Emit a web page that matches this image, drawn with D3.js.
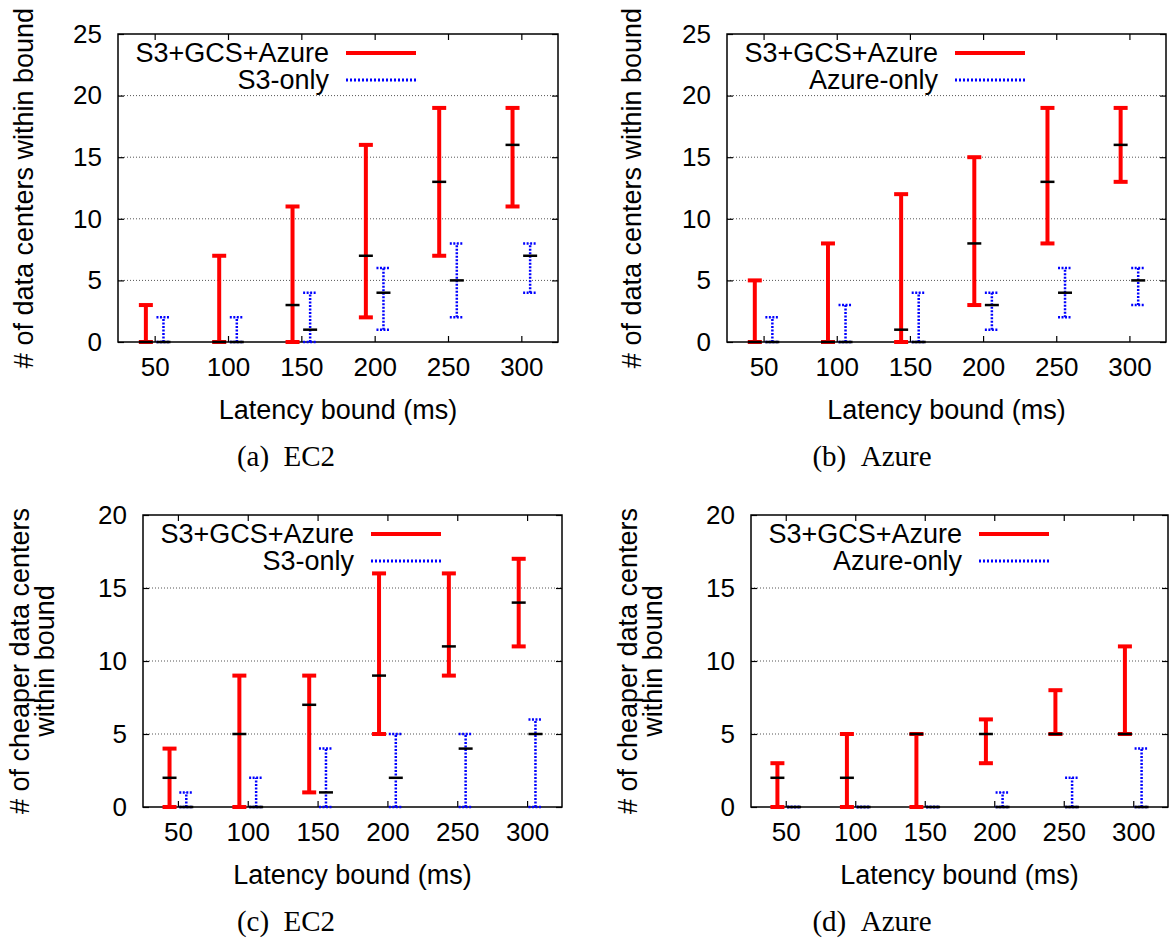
<!DOCTYPE html>
<html>
<head>
<meta charset="utf-8">
<script src="https://cdn.jsdelivr.net/npm/d3@7"></script>
<style>
  body { margin: 0; background: #fff; }
  svg { display: block; }
  text { font-family: "Liberation Sans", Arial, sans-serif; fill: #000; }
  .caption { font-family: "Liberation Serif", "Times New Roman", serif; }
</style>
</head>
<body>
<svg width="1172" height="949"></svg>
<script>
// latency bounds (ms)
var latency = [50, 100, 150, 200, 250, 300];

// (a) EC2 - number of data centers within bound
var aMultiMin = [0, 0, 0, 2, 7, 11];
var aMultiMed = [0, 0, 3, 7, 13, 16];
var aMultiMax = [3, 7, 11, 16, 19, 19];
var aSingleMin = [0, 0, 0, 1, 2, 4];
var aSingleMed = [0, 0, 1, 4, 5, 7];
var aSingleMax = [2, 2, 4, 6, 8, 8];

// (b) Azure
var bMultiMin = [0, 0, 0, 3, 8, 13];
var bMultiMed = [0, 0, 1, 8, 13, 16];
var bMultiMax = [5, 8, 12, 15, 19, 19];
var bSingleMin = [0, 0, 0, 1, 2, 3];
var bSingleMed = [0, 0, 0, 3, 4, 5];
var bSingleMax = [2, 3, 4, 4, 6, 6];

// (c) EC2 - cheaper data centers within bound
var cMultiMin = [0, 0, 1, 5, 9, 11];
var cMultiMed = [2, 5, 7, 9, 11, 14];
var cMultiMax = [4, 9, 9, 16, 16, 17];
var cSingleMin = [0, 0, 0, 0, 0, 0];
var cSingleMed = [0, 0, 1, 2, 4, 5];
var cSingleMax = [1, 2, 4, 5, 5, 6];

// (d) Azure
var dMultiMin = [0, 0, 0, 3, 5, 5];
var dMultiMed = [2, 2, 5, 5, 5, 5];
var dMultiMax = [3, 5, 5, 6, 8, 11];
var dSingleMin = [0, 0, 0, 0, 0, 0];
var dSingleMed = [0, 0, 0, 0, 0, 0];
var dSingleMax = [0, 0, 0, 1, 2, 4];

var multiLabel = "S3+GCS+Azure";

function rows(mn, md, mx) {
  return latency.map(function(l, i) { return { x: l, lo: mn[i], med: md[i], hi: mx[i] }; });
}

var panels = [
  { left: 118, right: 558, top: 34, bottom: 342, ymax: 25, ylabel: ["# of data centers within bound"], single: "S3-only", caption: "(a)\u2002EC2",
    multi: rows(aMultiMin, aMultiMed, aMultiMax), one: rows(aSingleMin, aSingleMed, aSingleMax) },
  { left: 727, right: 1166, top: 34, bottom: 342, ymax: 25, ylabel: ["# of data centers within bound"], single: "Azure-only", caption: "(b)\u2002Azure",
    multi: rows(bMultiMin, bMultiMed, bMultiMax), one: rows(bSingleMin, bSingleMed, bSingleMax) },
  { left: 143, right: 562, top: 515, bottom: 807, ymax: 20, ylabel: ["# of cheaper data centers", "within bound"], single: "S3-only", caption: "(c)\u2002EC2",
    multi: rows(cMultiMin, cMultiMed, cMultiMax), one: rows(cSingleMin, cSingleMed, cSingleMax) },
  { left: 751, right: 1168, top: 515, bottom: 807, ymax: 20, ylabel: ["# of cheaper data centers", "within bound"], single: "Azure-only", caption: "(d)\u2002Azure",
    multi: rows(dMultiMin, dMultiMed, dMultiMax), one: rows(dSingleMin, dSingleMed, dSingleMax) }
];

var svg = d3.select("svg");
var capW = 7;     // half width of error bar caps
var shift = 6;    // x offset of each series in data units
var blueDash = "2,1.5";

panels.forEach(function(p, pi) {
  var x = d3.scaleLinear().domain([25, 325]).range([p.left, p.right]);
  var y = d3.scaleLinear().domain([0, p.ymax]).range([p.bottom, p.top]);
  var g = svg.append("g");
  var yTicks = d3.range(0, p.ymax + 1, 5);
  var colX = (pi % 2) * 608;   // left edge of this sub-figure

  // grid
  g.append("g").selectAll("line")
    .data(yTicks.filter(function(t) { return t > 0 && t < p.ymax; }))
    .enter().append("line")
    .attr("x1", p.left).attr("x2", p.right)
    .attr("y1", function(d) { return y(d); }).attr("y2", function(d) { return y(d); })
    .attr("stroke", "#555").attr("stroke-width", 1).attr("stroke-dasharray", "1,2");

  // axes with inward ticks
  var ax = g.append("g").attr("transform", "translate(" + p.left + ",0)")
    .call(d3.axisLeft(y).tickValues(yTicks).tickSize(-6).tickPadding(16));
  var axR = g.append("g").attr("transform", "translate(" + p.right + ",0)")
    .call(d3.axisRight(y).tickValues(yTicks).tickSize(-6).tickFormat(""));
  var axB = g.append("g").attr("transform", "translate(0," + p.bottom + ")")
    .call(d3.axisBottom(x).tickValues(latency).tickSize(-6).tickPadding(16));
  var axT = g.append("g").attr("transform", "translate(0," + p.top + ")")
    .call(d3.axisTop(x).tickValues(latency).tickSize(-6).tickFormat(""));
  [ax, axR, axB, axT].forEach(function(a) {
    a.select(".domain").remove();
    a.selectAll("line").attr("stroke", "#000").attr("stroke-width", 1.2);
    a.selectAll("text").style("font-size", "26px").attr("font-family", null);
  });

  // frame
  g.append("rect")
    .attr("x", p.left).attr("y", p.top)
    .attr("width", p.right - p.left).attr("height", p.bottom - p.top)
    .attr("fill", "none").attr("stroke", "#000").attr("stroke-width", 1.5);

  // error bars
  function bars(data, dx, color, width, dash) {
    var b = g.append("g").selectAll("g").data(data).enter().append("g");
    b.append("line")
      .attr("x1", function(d) { return x(d.x + dx); }).attr("x2", function(d) { return x(d.x + dx); })
      .attr("y1", function(d) { return y(d.lo); }).attr("y2", function(d) { return y(d.hi); });
    b.append("line")
      .attr("x1", function(d) { return x(d.x + dx) - capW; }).attr("x2", function(d) { return x(d.x + dx) + capW; })
      .attr("y1", function(d) { return y(d.lo); }).attr("y2", function(d) { return y(d.lo); });
    b.append("line")
      .attr("x1", function(d) { return x(d.x + dx) - capW; }).attr("x2", function(d) { return x(d.x + dx) + capW; })
      .attr("y1", function(d) { return y(d.hi); }).attr("y2", function(d) { return y(d.hi); });
    b.selectAll("line").attr("stroke", color).attr("stroke-width", width)
      .attr("stroke-dasharray", dash || null);
    // median
    g.append("g").selectAll("line").data(data).enter().append("line")
      .attr("x1", function(d) { return x(d.x + dx) - capW; }).attr("x2", function(d) { return x(d.x + dx) + capW; })
      .attr("y1", function(d) { return y(d.med); }).attr("y2", function(d) { return y(d.med); })
      .attr("stroke", "#000").attr("stroke-width", 2.5);
  }
  bars(p.multi, -shift, "#ff0000", 4);
  bars(p.one, shift, "#0000ff", 2.5, blueDash);

  // legend
  var lg = g.append("g");
  [[multiLabel, "#ff0000", 4, null], [p.single, "#0000ff", 3, "2,2"]].forEach(function(e, i) {
    var yy = p.top + 19 + i * 27;
    lg.append("text").attr("x", p.left + 211).attr("y", yy)
      .attr("text-anchor", "end").attr("dominant-baseline", "central")
      .style("font-size", "27px").text(e[0]);
    lg.append("line").attr("x1", p.left + 228).attr("x2", p.left + 298)
      .attr("y1", yy).attr("y2", yy)
      .attr("stroke", e[1]).attr("stroke-width", e[2]).attr("stroke-dasharray", e[3]);
  });

  // axis titles
  var cx = (p.left + p.right) / 2, cy = (p.top + p.bottom) / 2;
  g.append("text").attr("x", cx).attr("y", p.bottom + 77)
    .attr("text-anchor", "middle").style("font-size", "27px").text("Latency bound (ms)");
  p.ylabel.forEach(function(t, i) {
    var bx = p.ylabel.length > 1 ? colX + 29 + i * 25 : colX + 33;
    g.append("text")
      .attr("transform", "translate(" + bx + "," + cy + ") rotate(-90)")
      .attr("text-anchor", "middle").style("font-size", "27px").text(t);
  });

  // caption
  g.append("text").attr("class", "caption")
    .attr("x", pi % 2 === 0 ? 286 : 872)
    .attr("y", p.bottom + 124)
    .attr("text-anchor", "middle").style("font-size", "29px").text(p.caption);
});
</script>
</body>
</html>
